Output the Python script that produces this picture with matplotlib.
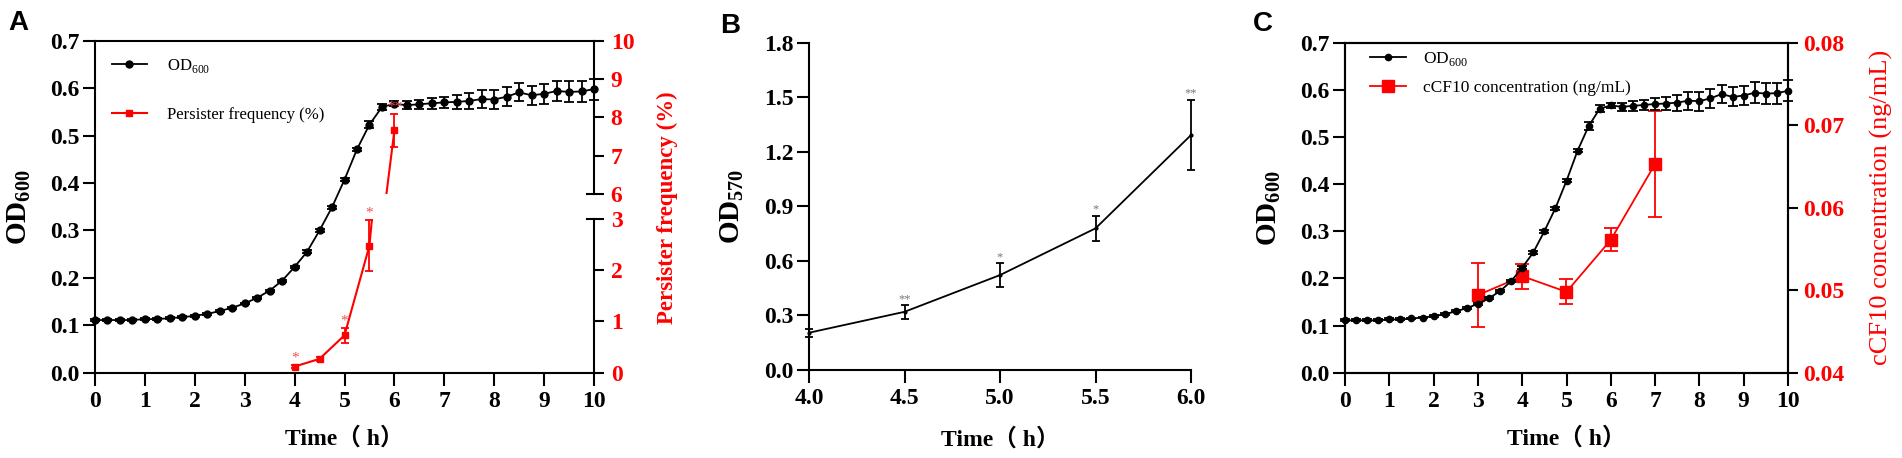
import numpy as np
import matplotlib
matplotlib.use("Agg")
import matplotlib.pyplot as plt
from matplotlib.ticker import FormatStrFormatter

RED = "#ff0000"

# growth curve, OD600 every 15 min (same culture in A and C)
time_od = [0, 0.25, 0.5, 0.75, 1, 1.25, 1.5, 1.75, 2, 2.25, 2.5, 2.75, 3, 3.25,
           3.5, 3.75, 4, 4.25, 4.5, 4.75, 5, 5.25, 5.5, 5.75, 6, 6.25, 6.5, 6.75,
           7, 7.25, 7.5, 7.75, 8, 8.25, 8.5, 8.75, 9, 9.25, 9.5, 9.75, 10]
od600 = [0.111, 0.111, 0.111, 0.111, 0.113, 0.113, 0.115, 0.117, 0.120, 0.124,
         0.130, 0.137, 0.146, 0.158, 0.173, 0.194, 0.223, 0.255, 0.300, 0.349,
         0.407, 0.471, 0.523, 0.560, 0.567, 0.564, 0.566, 0.568, 0.570, 0.571,
         0.573, 0.577, 0.576, 0.582, 0.591, 0.585, 0.588, 0.594, 0.592, 0.593,
         0.598]
od600_sd = [0.002] * 16 + [0.003] * 6 + [0.008, 0.007, 0.005, 0.008, 0.010,
            0.011, 0.012, 0.014, 0.017, 0.019, 0.020, 0.020, 0.019, 0.020,
            0.021, 0.022, 0.022, 0.022, 0.022]

# persister frequency (%)
time_pers = [4, 4.5, 5, 5.5, 6]
pers_freq = [0.12, 0.27, 0.73, 2.48, 7.66]
pers_sd = [0.03, 0.04, 0.15, 0.50, 0.43]
pers_stars = ["*", "", "*", "*", "**"]

# biofilm, OD570
time_bio = [4.0, 4.5, 5.0, 5.5, 6.0]
od570 = [0.205, 0.320, 0.522, 0.779, 1.292]
od570_sd = [0.022, 0.037, 0.067, 0.069, 0.194]
bio_stars = ["", "**", "*", "*", "**"]

# cCF10 concentration (ng/mL)
time_ccf = [3, 4, 5, 6, 7]
ccf10 = [0.0494, 0.0517, 0.0498, 0.0561, 0.0653]
ccf10_sd = [0.0039, 0.0015, 0.0015, 0.0014, 0.0064]

plt.rcParams["font.family"] = ["Liberation Serif", "Noto Sans CJK SC"]
plt.rcParams["font.weight"] = "bold"
plt.rcParams["axes.labelweight"] = "bold"
plt.rcParams["mathtext.fontset"] = "custom"
plt.rcParams["mathtext.rm"] = "Liberation Serif:weight=normal"
plt.rcParams["mathtext.bf"] = "Liberation Serif:weight=bold"
plt.rcParams["axes.linewidth"] = 1.5

W, H = 1902, 458
fig = plt.figure(figsize=(W / 100, H / 100), dpi=100)


def px_axes(left, top, right, bottom):
    return fig.add_axes([left / W, 1 - bottom / H, (right - left) / W, (bottom - top) / H])


def style(ax):
    ax.tick_params(axis="both", direction="out", length=9, width=1.5, labelsize=17)
    ax.tick_params(axis="y", pad=2)
    ax.tick_params(axis="x", pad=4)


legend_font = {"family": "Liberation Serif", "weight": "normal"}
xlabel = "Time（ h）"

# ---------------- A ----------------
axA = px_axes(95, 40.7, 594, 372.7)
axA.spines["right"].set_visible(False)
ebA = axA.errorbar(time_od, od600, yerr=od600_sd, color="black", marker="o", ms=5,
                   lw=1.3, elinewidth=1.3, capsize=3.5, capthick=1.3, clip_on=False, zorder=3)
axA.set_xlim(0, 10)
axA.set_ylim(0, 0.7)
axA.set_xticks(range(0, 11))
axA.set_yticks(np.arange(0, 0.71, 0.1))
axA.yaxis.set_major_formatter(FormatStrFormatter("%.1f"))
style(axA)
axA.set_ylabel(r"OD$_{\mathbf{600}}$", fontsize=21)
axA.yaxis.set_label_coords(-0.124, 0.5)
axA.set_xlabel(xlabel, fontsize=17)
axA.xaxis.set_label_coords(0.5, -0.165)

# broken right axis: 0-3 below, 6-10 above
axA_lo = px_axes(95, 219, 594, 372.7)
axA_hi = px_axes(95, 40.7, 594, 194)
red_handle = None
for seg, lims, ticks in [(axA_lo, (0, 3), [0, 1, 2, 3]), (axA_hi, (6, 10), [6, 7, 8, 9, 10])]:
    seg.patch.set_visible(False)
    for s in ["left", "top", "bottom"]:
        seg.spines[s].set_visible(False)
    seg.set_xlim(0, 10)
    seg.set_ylim(*lims)
    seg.set_xticks([])
    seg.yaxis.tick_right()
    seg.set_yticks(ticks)
    seg.tick_params(axis="y", direction="out", length=7, width=1.5, labelsize=17,
                    labelcolor=RED, color="black", pad=5)
    eb = seg.errorbar(time_pers, pers_freq, yerr=pers_sd, color=RED, marker="s", ms=5,
                      lw=1.5, elinewidth=1.3, capsize=3, capthick=1.3, zorder=4)
    red_handle = eb[0]
# caps at the break
axA_lo.plot([0.986, 1.0], [1, 1], transform=axA_lo.transAxes, color="black", lw=1.5, clip_on=False)
axA_hi.plot([0.986, 1.0], [0, 0], transform=axA_hi.transAxes, color="black", lw=1.5, clip_on=False)

for t, v, e, s in zip(time_pers, pers_freq, pers_sd, pers_stars):
    seg = axA_hi if v > 5 else axA_lo
    seg.annotate(s, (t, v + e), xytext=(0, 0), textcoords="offset points", ha="center",
                 va="bottom", color="#f05050", fontsize=11, fontweight="normal")

fig.text(667 / W, 1 - 208 / H, "Persister frequency (%)", rotation=90, color=RED,
         fontsize=16.5, ha="center", va="center")

axA.legend([ebA[0], red_handle], [r"OD$_{600}$", "Persister frequency (%)"],
           loc="upper left", bbox_to_anchor=(0.02, 0.97), frameon=False, prop=dict(legend_font, size=12),
           labelspacing=1.92, handlelength=2.1, handletextpad=1.2, borderaxespad=0)

# ---------------- B ----------------
axB = px_axes(809, 42.7, 1191, 370)
axB.spines["right"].set_visible(False)
axB.spines["top"].set_visible(False)
axB.errorbar(time_bio, od570, yerr=od570_sd, color="black", marker="o", ms=2, lw=1.3,
             elinewidth=1.3, capsize=3, capthick=1.3, clip_on=False)
for t, v, e, s in zip(time_bio, od570, od570_sd, bio_stars):
    axB.annotate(s, (t, v + e), xytext=(0, 0), textcoords="offset points", ha="center",
                 va="bottom", color="#777777", fontsize=9, fontweight="normal")
axB.set_xlim(4, 6)
axB.set_ylim(0, 1.8)
axB.set_xticks(time_bio)
axB.set_yticks(np.arange(0, 1.81, 0.3))
axB.xaxis.set_major_formatter(FormatStrFormatter("%.1f"))
axB.yaxis.set_major_formatter(FormatStrFormatter("%.1f"))
style(axB)
axB.set_ylabel(r"OD$_{\mathbf{570}}$", fontsize=21)
axB.yaxis.set_label_coords(-0.165, 0.5)
axB.set_xlabel(xlabel, fontsize=17)
axB.xaxis.set_label_coords(0.5, -0.177)

# ---------------- C ----------------
axC = px_axes(1345, 42.7, 1788, 372.7)
axC2 = axC.twinx()
ebC2 = axC2.errorbar(time_ccf, ccf10, yerr=ccf10_sd, color=RED, marker="s", ms=9, lw=1.3,
                     elinewidth=1.3, capsize=5, capthick=1.3)
ebC = axC.errorbar(time_od, od600, yerr=od600_sd, color="black", marker="o", ms=4.5,
                   lw=1.3, elinewidth=1.3, capsize=3.5, capthick=1.3, clip_on=False)
axC.set_zorder(axC2.get_zorder() + 1)
axC.patch.set_visible(False)
axC.set_xlim(0, 10)
axC.set_ylim(0, 0.7)
axC.set_xticks(range(0, 11))
axC.set_yticks(np.arange(0, 0.71, 0.1))
axC.yaxis.set_major_formatter(FormatStrFormatter("%.1f"))
style(axC)
axC2.set_ylim(0.04, 0.08)
axC2.set_yticks([0.04, 0.05, 0.06, 0.07, 0.08])
axC2.yaxis.set_major_formatter(FormatStrFormatter("%.2f"))
axC2.tick_params(axis="y", direction="out", length=7, width=1.5, labelsize=17,
                 labelcolor=RED, color="black", pad=4)
axC.set_ylabel(r"OD$_{\mathbf{600}}$", fontsize=21)
axC.yaxis.set_label_coords(-0.140, 0.5)
axC.set_xlabel(xlabel, fontsize=17)
axC.xaxis.set_label_coords(0.5, -0.165)
axC2.text(1.212, 0.5, "cCF10 concentration (ng/mL)", transform=axC2.transAxes, rotation=90,
          ha="center", va="center", color=RED, fontsize=19, fontweight="normal")
axC.legend([ebC[0], ebC2[0]], [r"OD$_{600}$", "cCF10 concentration (ng/mL)"],
           loc="upper left", bbox_to_anchor=(0.04, 1.0), frameon=False, prop=dict(legend_font, size=12.5),
           labelspacing=0.73, handlelength=2.1, handletextpad=1.0, borderaxespad=0)

# panel letters
for x, y, letter in [(8, 10, "A"), (720, 13, "B"), (1253, 11, "C")]:
    fig.text(x / W, 1 - y / H, letter, family="Liberation Sans", fontweight="bold",
             fontsize=20, ha="left", va="top")

fig.savefig("out.png", dpi=100)
